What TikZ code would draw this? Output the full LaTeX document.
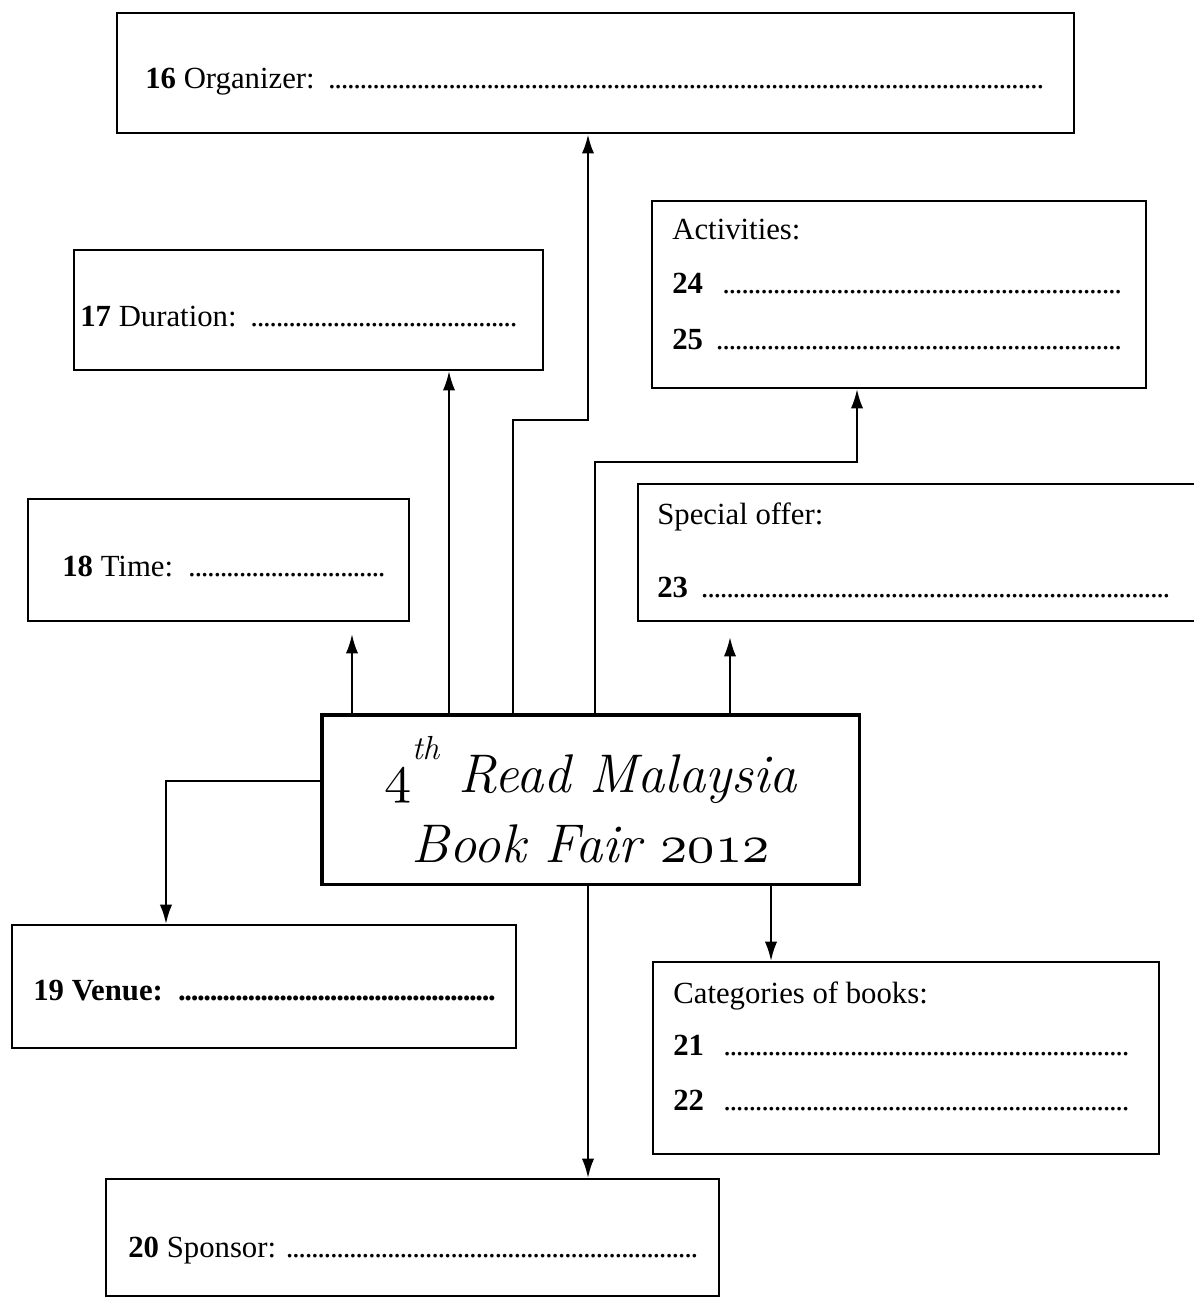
\documentclass[tikz,border=0pt]{standalone}
\usepackage{amsmath}
\usepackage{fontspec}
\usepackage{xcolor}
\usepackage{tikz}
\usetikzlibrary{arrows.meta}
\usetikzlibrary{shapes}

\DeclareFontShape{OML}{cmm}{m}{it}{<->cmmi10}{}
\newfontfamily\boxfont{Liberation Serif}
\newcommand\dotrow{\leaders\hbox to 3.6pt{\hss.\hss}\hfill}
\newcommand\oldnum[1]{{\usefont{OML}{cmm}{m}{it}#1}}

\begin{document}
\begin{tikzpicture}[x=0.02cm, y=-0.02cm,
        box/.style={draw, rectangle, line width=1.2pt, anchor=north west, inner sep=0pt},
        txt/.style={anchor=base west, inner sep=0pt, font=\boxfont\fontsize{17.5}{20}\selectfont},
        arr/.style={line width=1.2pt, -{Latex[length=11pt,width=7pt]}}]
        \useasboundingbox (0, 0) rectangle (1193, 1297);

        % the boxes
        \node[box, minimum width=19.14cm, minimum height=2.4cm] (org) at (116, 12) {};
        \node[box, minimum width=9.38cm, minimum height=2.4cm] (dur) at (73, 249) {};
        \node[box, minimum width=9.88cm, minimum height=3.74cm] (act) at (651, 200) {};
        \node[box, minimum width=7.62cm, minimum height=2.44cm] (time) at (27, 498) {};
        \node[box, minimum width=12cm, minimum height=2.74cm] (offer) at (637, 483) {};
        \node[box, minimum width=10.08cm, minimum height=2.46cm] (venue) at (11, 924) {};
        \node[box, minimum width=10.12cm, minimum height=3.84cm] (cat) at (652, 961) {};
        \node[box, minimum width=12.26cm, minimum height=2.34cm] (spon) at (105, 1178) {};

        \node[box, line width=2pt, minimum width=10.76cm, minimum height=3.4cm,
            align=center, font=\fontsize{31}{40}\selectfont\itshape] (fair) at (320, 713)
            {\oldnum{4}\raisebox{0.6em}{\fontsize{19}{20}\selectfont th}\ Read Malaysia\\
             Book Fair \oldnum{2012}};

        % the texts
        \node[txt] (t16) at (145, 89) {\makebox[18cm][l]{\textbf{16} Organizer: \dotrow}};
        \node[txt] (t17) at (80, 326) {\makebox[8.8cm][l]{\textbf{17} Duration: \dotrow}};
        \node[txt] (tact) at (672, 240) {Activities:};
        \node[txt] (t24) at (672, 294) {\makebox[9.02cm][l]{\textbf{24}\enspace\dotrow}};
        \node[txt] (t25) at (672, 349) {\makebox[9.02cm][l]{\textbf{25} \dotrow}};
        \node[txt] (t18) at (62, 576) {\makebox[6.52cm][l]{\textbf{18} Time: \dotrow}};
        \node[txt] (toffer) at (657, 524) {Special offer:};
        \node[txt] (t23) at (657, 597) {\makebox[10.36cm][l]{\textbf{23} \dotrow}};
        \node[txt] (t19) at (33, 1000) {\makebox[9.24cm][l]{\textbf{19 Venue: \dotrow}}};
        \node[txt] (tcat) at (673, 1003) {Categories of books:};
        \node[txt] (t21) at (673, 1055) {\makebox[9.2cm][l]{\textbf{21}\enspace\dotrow}};
        \node[txt] (t22) at (673, 1110) {\makebox[9.2cm][l]{\textbf{22}\enspace\dotrow}};
        \node[txt] (t20) at (128, 1257) {\makebox[11.44cm][l]{\textbf{20} Sponsor: \dotrow}};

        % where the connectors turn
        \coordinate (xtime) at (352, 0);
        \coordinate (xdur) at (449, 0);
        \coordinate (xorga) at (513, 0);
        \coordinate (xorgb) at (588, 0);
        \coordinate (yorg) at (0, 420);
        \coordinate (xacta) at (595, 0);
        \coordinate (xactb) at (857, 0);
        \coordinate (yact) at (0, 462);
        \coordinate (xoffer) at (730, 0);
        \coordinate (yvenue) at (0, 781);
        \coordinate (xvenue) at (166, 0);
        \coordinate (xspon) at (588, 0);
        \coordinate (xcat) at (771, 0);

        \draw[arr, shorten >=0.24cm] (fair.north -| xtime) -- (time.south -| xtime);
        \draw[arr] (fair.north -| xdur) -- (dur.south -| xdur);
        \draw[arr, line width=1.6pt] (fair.north -| xorga) -- (xorga |- yorg) -- (xorgb |- yorg) -- (org.south -| xorgb);
        \draw[arr] (fair.north -| xacta) -- (xacta |- yact) -- (xactb |- yact) -- (act.south -| xactb);
        \draw[arr, shorten >=0.3cm] (fair.north -| xoffer) -- (offer.south -| xoffer);
        \draw[arr] (fair.west |- yvenue) -- (xvenue |- yvenue) -- (venue.north -| xvenue);
        \draw[arr] (fair.south -| xspon) -- (spon.north -| xspon);
        \draw[arr] (fair.south -| xcat) -- (cat.north -| xcat);
\end{tikzpicture}
\end{document}
